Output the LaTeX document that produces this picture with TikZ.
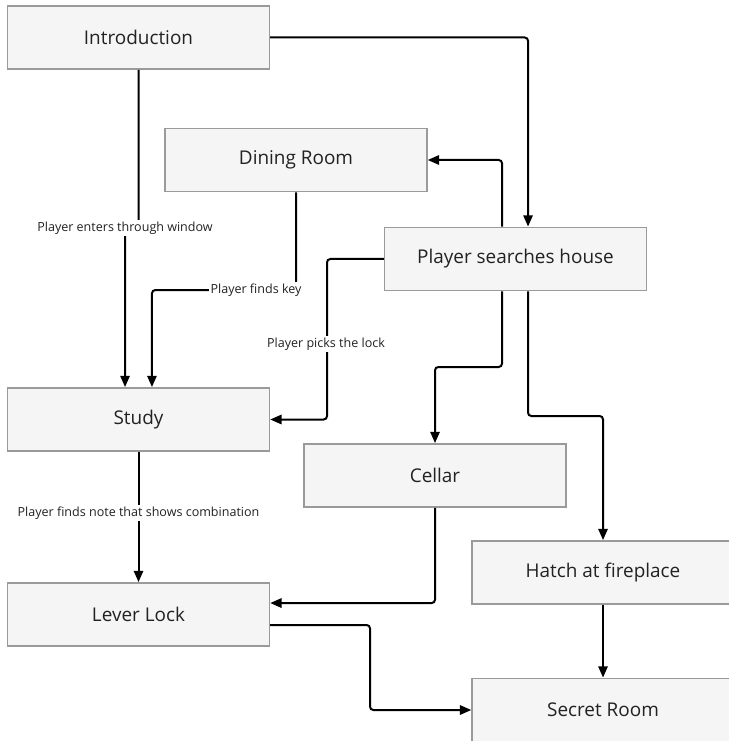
\documentclass[tikz,border=0pt]{standalone}
\usepackage{fontspec}
\setmainfont{Open Sans}
\usetikzlibrary{arrows.meta}
\definecolor{boxfill}{HTML}{F5F5F5}
\definecolor{boxline}{HTML}{9A9A9A}
\definecolor{boxtext}{HTML}{222222}
\begin{document}
\begin{tikzpicture}[x=0.75pt,y=-0.75pt,
  box/.style={draw=boxline,fill=boxfill,line width=1.1pt,minimum width=196.5pt,minimum height=47.5pt,inner sep=0pt,text=boxtext,font=\fontsize{14.2}{16}\selectfont},
  conn/.style={draw=black,line width=1.5pt,rounded corners=2.5pt,-{Triangle[length=8.5pt,width=7pt]}},
  lbl/.style={fill=white,inner sep=1.2pt,text=boxtext,font=\fontsize{9.4}{11}\selectfont}
]
\useasboundingbox (0,0) rectangle (728,741);

\node[box] (intro) at (138.5,37.5) {Introduction};
\node[box] (dining) at (296,160) {Dining Room};
\node[box] (search) at (515.5,259) {Player searches house};
\node[box] (study) at (138.5,419.5) {Study};
\node[box] (cellar) at (435,475.5) {Cellar};
\node[box] (hatch) at (603,572.5) {Hatch at fireplace};
\node[box] (lever) at (138.5,614.5) {Lever Lock};
\node[box] (secret) at (603,710) {Secret Room};

% Introduction -> Player searches house
\draw[conn] (intro.east) -| ([xshift=9.4pt]search.north);
% Introduction -> Study
\draw[conn] (intro.south) -- (138.5,228) -- (125,228) -- ([xshift=-10.1pt]study.north);
\node[lbl] (l1) at (125,228) {Player enters through window};
% Dining Room -> Study
\draw[conn] (dining.south) -- (296,290) -| ([xshift=10.1pt]study.north);
\node[lbl] (l2) at (256,290) {Player finds key};
% Player searches house -> Study
\draw[conn] (search.west) -- (327,259) |- (study.east);
\node[lbl] (l3) at (326,344) {Player picks the lock};
% Player searches house -> Dining Room
\draw[conn] ([xshift=-10.1pt]search.north) |- (dining.east);
% Player searches house -> Cellar
\draw[conn] ([xshift=-10.1pt]search.south) -- (502,367) -| (cellar.north);
% Player searches house -> Hatch at fireplace
\draw[conn] ([xshift=9.4pt]search.south) -- (528,416) -| (hatch.north);
% Cellar -> Lever Lock
\draw[conn] (cellar.south) |- ([yshift=8.6pt]lever.east);
% Lever Lock -> Secret Room
\draw[conn] ([yshift=-7.9pt]lever.east) -- (370,625) |- (secret.west);
% Hatch -> Secret Room
\draw[conn] (hatch.south) -- (secret.north);
% Study -> Lever Lock
\draw[conn] (study.south) -- (lever.north);
\node[lbl] (l4) at (138.5,513) {Player finds note that shows combination};
\end{tikzpicture}
\end{document}
